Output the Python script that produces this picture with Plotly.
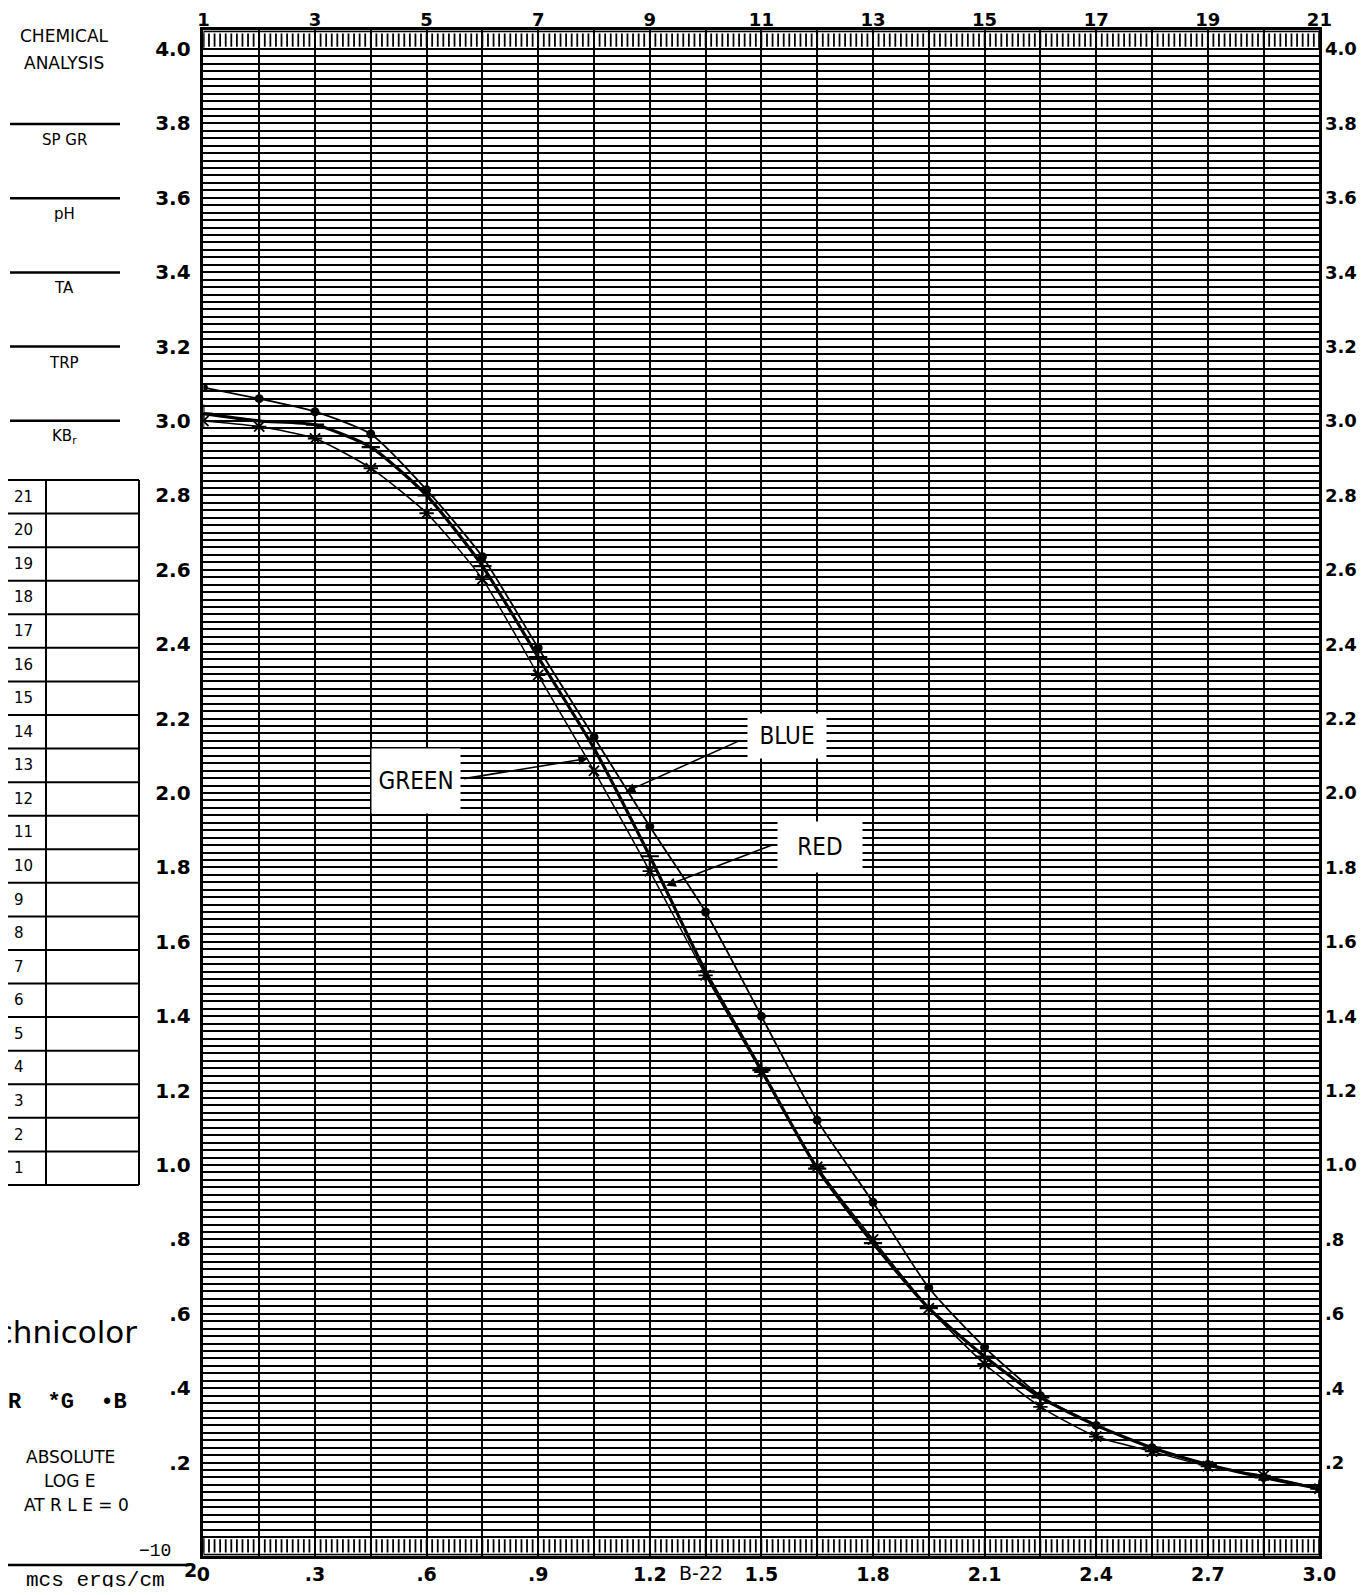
import numpy as np
import plotly.graph_objects as go

# the page body adds an 8px margin all round, so the figure is drawn smaller and shifted
OFF = 8
FW, FH = 1367 - 2 * OFF, 1595 - 2 * OFF

# step wedge: step number and log E (absolute, at RLE = 0)
steps = [1, 2, 3, 4, 5, 6, 7, 8, 9, 10, 11, 12, 13, 14, 15, 16, 17, 18, 19, 20, 21]
log_e = [0.00, 0.15, 0.30, 0.45, 0.60, 0.75, 0.90, 1.05, 1.20, 1.35, 1.50,
         1.65, 1.80, 1.95, 2.10, 2.25, 2.40, 2.55, 2.70, 2.85, 3.00]

# densities
blue = [3.09, 3.06, 3.025, 2.965, 2.815, 2.635, 2.39, 2.15, 1.91, 1.68, 1.40,
        1.12, 0.90, 0.67, 0.51, 0.38, 0.30, 0.24, 0.195, 0.16, 0.13]
red = [3.02, 3.00, 2.99, 2.93, 2.80, 2.61, 2.365, 2.12, 1.83, 1.52, 1.255,
       0.99, 0.79, 0.615, 0.485, 0.375, 0.30, 0.24, 0.195, 0.16, 0.13]
green = [3.00, 2.985, 2.953, 2.873, 2.752, 2.575, 2.317, 2.06, 1.79, 1.51, 1.25,
         0.995, 0.80, 0.615, 0.465, 0.35, 0.27, 0.23, 0.19, 0.165, 0.13]

# axis labels
y_ticks = [0.2, 0.4, 0.6, 0.8, 1.0, 1.2, 1.4, 1.6, 1.8, 2.0, 2.2, 2.4, 2.6, 2.8,
           3.0, 3.2, 3.4, 3.6, 3.8, 4.0]
y_labels = [".2", ".4", ".6", ".8", "1.0", "1.2", "1.4", "1.6", "1.8", "2.0", "2.2",
            "2.4", "2.6", "2.8", "3.0", "3.2", "3.4", "3.6", "3.8", "4.0"]
x_ticks = [0.0, 0.3, 0.6, 0.9, 1.2, 1.5, 1.8, 2.1, 2.4, 2.7, 3.0]
x_labels = ["0", ".3", ".6", ".9", "1.2", "1.5", "1.8", "2.1", "2.4", "2.7", "3.0"]
step_labels = ["1", "3", "5", "7", "9", "11", "13", "15", "17", "19", "21"]
chem_rows = ["SP GR", "pH", "TA", "TRP", "KB<sub>r</sub>"]


def fx(p):
    return (p - OFF) / FW


def fy(p):
    return 1 - (p - OFF) / FH


def note(x, y, text, font, xanchor="center", yanchor="middle"):
    return dict(x=fx(x), y=fy(y), xref="paper", yref="paper", text=text, showarrow=False,
                xanchor=xanchor, yanchor=yanchor, font=font)


num_font = dict(family="DejaVu Sans", size=20, color="black", weight="bold")
num_mid = dict(family="DejaVu Sans", size=19, color="black", weight="bold")
num_small = dict(family="DejaVu Sans", size=18, color="black", weight="bold")
small = dict(family="DejaVu Sans", size=15, color="black")
grid_minor_x = [v + 0.15 for v in x_ticks[:-1]]
grid_minor_y = [round(v, 2) for v in np.arange(0, 4.0001, 0.02)]

fig = go.Figure()

# film-edge rulers along top and bottom
ruler_x = [round(v, 3) for v in np.arange(0, 3.0001, 0.015)]
for y0, y1 in [(4.006, 4.042), (-0.042, -0.006)]:
    xs, ys = [], []
    for t in ruler_x:
        xs += [t, t, None]
        ys += [y0, y1, None]
    fig.add_trace(go.Scatter(x=xs, y=ys, mode="lines", line=dict(color="black", width=1.8),
                             hoverinfo="skip", showlegend=False))

fig.add_trace(go.Scatter(x=log_e, y=green, mode="lines+markers", name="G",
                         line=dict(color="black", width=1.5, shape="spline", smoothing=0.6),
                         marker=dict(symbol="asterisk-open", size=12,
                                     line=dict(width=1.8, color="black"))))
fig.add_trace(go.Scatter(x=log_e, y=red, mode="lines+markers", name="R",
                         line=dict(color="black", width=3.2, shape="spline", smoothing=0.6),
                         marker=dict(symbol="cross-thin-open", size=13,
                                     line=dict(width=2.2, color="black"))))
fig.add_trace(go.Scatter(x=log_e, y=blue, mode="lines+markers", name="B",
                         line=dict(color="black", width=1.8, shape="spline", smoothing=0.6),
                         marker=dict(symbol="circle", size=9, color="black")))
# keeps the top/right axes alive
fig.add_trace(go.Scatter(x=[0], y=[0], xaxis="x2", yaxis="y2", mode="markers",
                         marker=dict(opacity=0), hoverinfo="skip", showlegend=False))

shapes = [
    dict(type="rect", xref="x", yref="y", x0=0, x1=3.0, y0=4.0, y1=4.048,
         line=dict(color="black", width=2)),
    dict(type="rect", xref="x", yref="y", x0=0, x1=3.0, y0=-0.048, y1=0.0,
         line=dict(color="black", width=2)),
]

annotations = []

# curve labels and pointers
label_font = dict(family="DejaVu Sans Condensed, Liberation Sans Narrow, Roboto",
                  size=24, color="black")
for txt, cx, cy, bw, bh in [("GREEN", 416, 781, 86, 62), ("BLUE", 787, 736, 76, 42),
                            ("RED", 820, 847, 82, 48)]:
    a = note(cx, cy, txt, label_font)
    a.update(bgcolor="white", width=bw, height=bh)
    annotations.append(a)
for tip, tail in [((1.034, 2.093), (0.697, 2.038)), ((1.135, 2.003), (1.444, 2.142)),
                  ((1.244, 1.751), (1.531, 1.861))]:
    annotations.append(dict(x=tip[0], y=tip[1], ax=tail[0], ay=tail[1], xref="x", yref="y",
                            axref="x", ayref="y", text="", showarrow=True, arrowhead=2,
                            arrowsize=1.2, arrowwidth=1.6, arrowcolor="black"))

# left-hand panel
head_font = dict(family="DejaVu Sans", size=17, color="black")
annotations.append(note(64, 36, "CHEMICAL", head_font))
annotations.append(note(64, 63, "ANALYSIS", head_font))
for i, lab in enumerate(chem_rows):
    ly = 124 + 74.2 * i
    shapes.append(dict(type="line", xref="paper", yref="paper", x0=fx(10), x1=fx(120),
                       y0=fy(ly), y1=fy(ly), line=dict(color="black", width=2.5)))
    annotations.append(note(64, ly + 16, lab, small))

row_top, row_h = 480, 33.57
for i in range(22):
    yy = row_top + row_h * i
    shapes.append(dict(type="line", xref="paper", yref="paper", x0=fx(OFF), x1=fx(139),
                       y0=fy(yy), y1=fy(yy), line=dict(color="black", width=2)))
for xx in [46, 139]:
    shapes.append(dict(type="line", xref="paper", yref="paper", x0=fx(xx), x1=fx(xx),
                       y0=fy(row_top), y1=fy(row_top + 21 * row_h),
                       line=dict(color="black", width=2)))
for i in range(21):
    annotations.append(note(12, row_top + row_h * (i + 0.5), str(21 - i), small,
                            xanchor="left"))

mono = dict(family="Liberation Mono", size=21, color="black")
annotations += [
    note(139, 1332, "Technicolor", dict(family="DejaVu Sans", size=31, color="black"),
         xanchor="right"),
    note(6, 1402, "R\u00a0\u00a0*G\u00a0\u00a0•B",
         dict(family="Liberation Mono", size=22, color="black", weight="bold"), xanchor="left"),
    note(70, 1457, "ABSOLUTE", head_font),
    note(70, 1481, "LOG E", head_font),
    note(76, 1505, "AT R L E = 0", head_font),
    note(173, 1551, "−10", dict(family="Liberation Mono", size=18, color="black"),
         xanchor="right"),
    note(199, 1570, "2", num_mid, xanchor="right"),
    note(95, 1580, "mcs ergs/cm", mono),
    note(701, 1573, "B-22", dict(family="DejaVu Sans", size=19, color="black")),
]
shapes.append(dict(type="line", xref="paper", yref="paper", x0=fx(OFF), x1=fx(190),
                   y0=fy(1565), y1=fy(1565), line=dict(color="black", width=2.5)))

axis_common = dict(automargin=False, zeroline=False, ticks="outside",
                   tickcolor="rgba(0,0,0,0)")

fig.update_layout(
    width=FW, height=FH,
    margin=dict(l=0, r=0, t=0, b=0),
    paper_bgcolor="white", plot_bgcolor="white",
    showlegend=False,
    shapes=shapes,
    annotations=annotations,
    xaxis=dict(domain=[fx(203.4), fx(1319.4)], range=[0, 3.0], tickvals=x_ticks,
               ticktext=x_labels, tickfont=num_mid, ticklen=0, showgrid=True,
               gridcolor="black", gridwidth=2,
               minor=dict(tickvals=grid_minor_x, showgrid=True, gridcolor="black", gridwidth=2),
               showline=True, linecolor="black", linewidth=2.5, mirror=True, **axis_common),
    yaxis=dict(domain=[fy(1555.6), fy(30.4)], range=[-0.05, 4.05], tickvals=y_ticks,
               ticktext=y_labels, tickfont=num_font, ticklen=6, showgrid=True,
               gridcolor="black", gridwidth=2.2,
               minor=dict(tickvals=grid_minor_y, showgrid=True, gridcolor="black", gridwidth=2.2),
               showline=True, linecolor="black", linewidth=2.5, mirror=True, **axis_common),
    xaxis2=dict(overlaying="x", side="top", anchor="y", range=[0, 3.0], tickvals=x_ticks,
                ticktext=step_labels, tickfont=num_small, ticklen=0, ticklabelstandoff=-4,
                showgrid=False, **axis_common),
    yaxis2=dict(overlaying="y", side="right", anchor="x", range=[-0.05, 4.05], tickvals=y_ticks,
                ticktext=y_labels, tickfont=num_small, ticklen=1, showgrid=False,
                **axis_common),
)

fig.write_html("out.html")
